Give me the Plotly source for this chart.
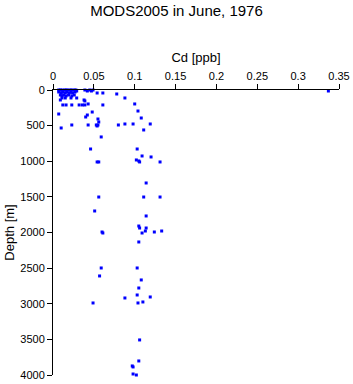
import plotly.graph_objects as go

# Cd concentration [ppb] and depth [m]
cd = [0.007, 0.009, 0.011, 0.014, 0.016, 0.018, 0.021, 0.023, 0.026, 0.028,
      0.007, 0.010, 0.012, 0.015, 0.017, 0.020, 0.022, 0.024, 0.027, 0.029,
      0.009, 0.011, 0.013, 0.016, 0.019, 0.023, 0.026,
      0.011, 0.015, 0.022, 0.029,
      0.009, 0.039, 0.042, 0.045, 0.047, 0.049, 0.054, 0.061, 0.078, 0.088, 0.038, 0.039, 0.043,
      0.012, 0.016, 0.023, 0.032, 0.036, 0.039, 0.061, 0.100, 0.104, 0.108,
      0.048, 0.007, 0.042, 0.040, 0.055,
      0.023, 0.010, 0.043, 0.053, 0.055, 0.056, 0.054, 0.080, 0.088, 0.098, 0.119, 0.111, 0.059,
      0.046, 0.103, 0.109, 0.102, 0.105, 0.106, 0.054, 0.056, 0.120, 0.131,
      0.114, 0.056, 0.111, 0.131, 0.051, 0.114, 0.105, 0.106, 0.114, 0.113, 0.060, 0.061, 0.109, 0.124, 0.133, 0.105,
      0.059, 0.103, 0.057, 0.108, 0.105, 0.103, 0.088, 0.119, 0.104, 0.110, 0.049,
      0.106, 0.105, 0.097, 0.098, 0.098, 0.102,
      0.337]
depth = [0, 0, 0, 0, 0, 0, 0, 0, 0, 0,
         28, 42, 28, 42, 28, 42, 28, 42, 28, 14,
         70, 84, 70, 84, 70, 84, 70,
         112, 112, 112, 112,
         140, 0, 14, 0, 14, 0, 42, 42, 56, 112, 140, 154, 196,
         210, 210, 210, 210, 210, 210, 210, 196, 295, 393,
         309, 337, 351, 379, 407,
         491, 533, 491, 491, 491, 449, 505, 491, 477, 477, 477, 561, 659,
         828, 828, 926, 982, 996, 1010, 1010, 1010, 940, 1010,
         1305, 1502, 1502, 1502, 1698, 1768, 1909, 1937, 1937, 1979, 1993, 2007, 2007, 1993, 1979, 2133,
         2498, 2498, 2610, 2666, 2779, 2877, 2919, 2905, 2989, 2975, 2989,
         3508, 3803, 3873, 3887, 3986, 4000,
         14]

fig = go.Figure(go.Scatter(
    x=cd, y=depth, mode="markers",
    marker=dict(symbol="square", size=3, color="#0000ff", line=dict(width=0)),
    showlegend=False, cliponaxis=False,
))

fig.update_layout(
    width=353, height=384,
    margin=dict(l=53, r=14, t=90, b=9, autoexpand=False),
    paper_bgcolor="white", plot_bgcolor="white",
    font=dict(family="Liberation Sans, Arial, sans-serif", size=11, color="black"),
    title=dict(text="MODS2005 in June, 1976", x=0.5, xanchor="center",
               y=0.985, yanchor="top", font=dict(size=15)),
)
fig.update_xaxes(
    side="top", range=[0, 0.35], tickmode="linear", tick0=0, dtick=0.05,
    showgrid=False, zeroline=False, showline=True, linecolor="black", linewidth=1,
    ticks="outside", ticklen=5, tickcolor="black", automargin=False,
    title=dict(text="Cd [ppb]", standoff=4),
)
fig.update_yaxes(
    range=[4000, 0], tickmode="linear", tick0=0, dtick=500,
    showgrid=False, zeroline=False, showline=True, linecolor="black", linewidth=1,
    ticks="outside", ticklen=5, tickcolor="black", automargin=False,
    title=dict(text="Depth [m]", standoff=2),
)

fig.write_html("out.html")
